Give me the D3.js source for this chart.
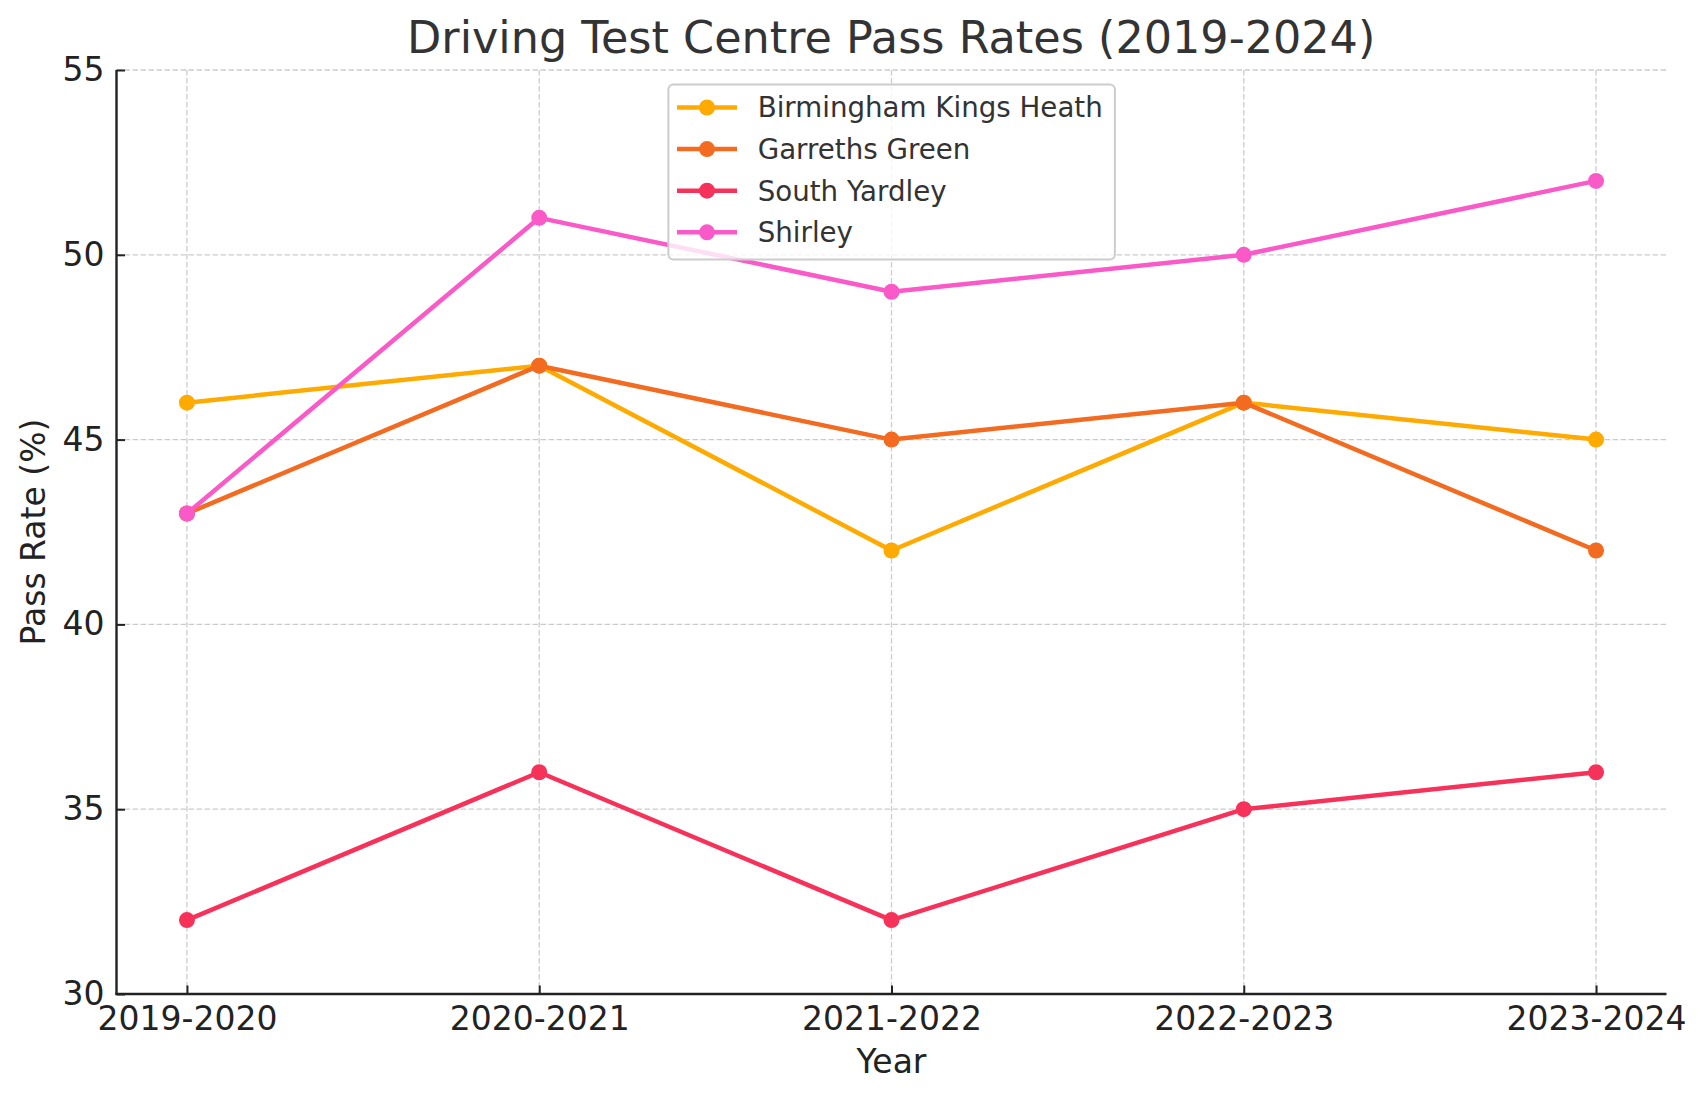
<!DOCTYPE html>
<html>
<head>
<meta charset="utf-8">
<script src="https://cdn.jsdelivr.net/npm/d3@7"></script>
<style>
  html, body { margin: 0; padding: 0; background: #fff; }
  svg { display: block; font-family: "DejaVu Sans", sans-serif; }
</style>
</head>
<body>
<svg id="chart" width="1707" height="1101"></svg>
<script>
const categories = ["2019-2020", "2020-2021", "2021-2022", "2022-2023", "2023-2024"];
const seriesNames = ["Birmingham Kings Heath", "Garreths Green", "South Yardley", "Shirley"];
const birminghamKingsHeath = [46, 47, 42, 46, 45];
const garrethsGreen = [43, 47, 45, 46, 42];
const southYardley = [32, 36, 32, 35, 36];
const shirley = [43, 51, 49, 50, 52];
const yTicks = [30, 35, 40, 45, 50, 55];
const colors = ["#FFAA00", "#F26B21", "#F7325A", "#FA5AC8"];

const series = [birminghamKingsHeath, garrethsGreen, southYardley, shirley].map((vals, i) => ({
  name: seriesNames[i], color: colors[i], values: vals
}));

const svg = d3.select("#chart");
const L = 116.5, R = 1666.5, T = 70, B = 994;

const x = d3.scalePoint().domain(categories).range([L, R]).padding(0.2);
const y = d3.scaleLinear().domain([30, 55]).range([B, T]);

// grid
const grid = svg.append("g");
grid.selectAll("line.h").data(yTicks).enter().append("line")
  .attr("x1", L).attr("x2", R).attr("y1", d => y(d)).attr("y2", d => y(d))
  .attr("stroke", "#cccccc").attr("stroke-width", 1.3).attr("stroke-dasharray", "5.5,2.5");
grid.selectAll("line.v").data(categories).enter().append("line")
  .attr("x1", d => x(d)).attr("x2", d => x(d)).attr("y1", T).attr("y2", B)
  .attr("stroke", "#cccccc").attr("stroke-width", 1.3).attr("stroke-dasharray", "5.5,2.5");

// axes
const yAxis = svg.append("g").attr("transform", `translate(${L},0)`)
  .call(d3.axisLeft(y).tickValues(yTicks).tickSize(-8.5).tickPadding(12).tickFormat(d3.format("d")));
const xAxis = svg.append("g").attr("transform", `translate(0,${B})`)
  .call(d3.axisBottom(x).tickSize(-8.5).tickPadding(12.5));
[xAxis, yAxis].forEach(g => {
  g.select(".domain").remove();
  g.selectAll(".tick line").attr("stroke", "#222").attr("stroke-width", 2);
  g.selectAll(".tick text").attr("fill", "#222").style("font-size", "33px")
    .style("font-family", "DejaVu Sans");
});
// spines (left, bottom)
svg.append("line").attr("x1", L).attr("x2", L).attr("y1", T).attr("y2", B + 1)
  .attr("stroke", "#222").attr("stroke-width", 2.4);
svg.append("line").attr("x1", L - 1).attr("x2", R).attr("y1", B).attr("y2", B)
  .attr("stroke", "#222").attr("stroke-width", 2.4);

// series
const line = d3.line().x((d, i) => x(categories[i])).y(d => y(d));
series.forEach(s => {
  const g = svg.append("g");
  g.append("path").datum(s.values).attr("d", line)
    .attr("fill", "none").attr("stroke", s.color).attr("stroke-width", 4.5)
    .attr("stroke-linejoin", "round").attr("stroke-linecap", "butt");
  g.selectAll("circle").data(s.values).enter().append("circle")
    .attr("cx", (d, i) => x(categories[i])).attr("cy", d => y(d)).attr("r", 8)
    .attr("fill", s.color);
});

// title & labels
svg.append("text").attr("x", 891.2).attr("y", 53.3).attr("text-anchor", "middle")
  .attr("fill", "#333").style("font-size", "44.5px").text("Driving Test Centre Pass Rates (2019-2024)");
svg.append("text").attr("x", (L + R) / 2).attr("y", 1073.3).attr("text-anchor", "middle")
  .attr("fill", "#222").style("font-size", "33px").text("Year");
svg.append("text").attr("transform", `translate(44.5,${(T + B) / 2}) rotate(-90)`)
  .attr("text-anchor", "middle").attr("fill", "#222").style("font-size", "33px").text("Pass Rate (%)");

// legend
const lg = svg.append("g");
lg.append("rect").attr("x", 668.4).attr("y", 84.5).attr("width", 446.5).attr("height", 175)
  .attr("rx", 5).attr("fill", "rgba(255,255,255,0.8)").attr("stroke", "#cccccc").attr("stroke-width", 2);
series.forEach((s, i) => {
  const cy = 107.5 + i * 41.6;
  lg.append("line").attr("x1", 677).attr("x2", 737).attr("y1", cy).attr("y2", cy)
    .attr("stroke", s.color).attr("stroke-width", 4.5);
  lg.append("circle").attr("cx", 707).attr("cy", cy).attr("r", 8).attr("fill", s.color);
  lg.append("text").attr("x", 757.7).attr("y", cy).attr("dy", "0.36em")
    .attr("fill", "#333").style("font-size", "27.7px").text(s.name);
});
</script>
</body>
</html>
